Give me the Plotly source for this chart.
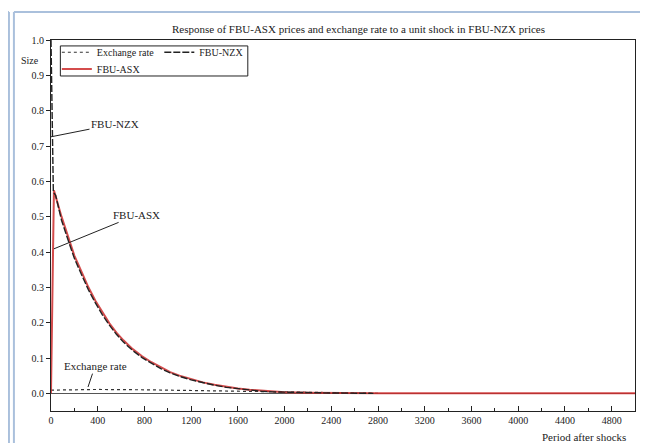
import plotly.graph_objects as go

# ---- data ----
period_asx = [0, 25, 90, 150, 200, 260, 320, 380, 440, 500, 560, 620, 700, 780, 860, 940,
              1020, 1100, 1200, 1300, 1400, 1500, 1600, 1700, 1800, 1900, 2000, 2200, 2400, 2800, 5000]
fbu_asx = [0.0, 0.575, 0.50, 0.44, 0.39, 0.345, 0.30, 0.262, 0.228, 0.198, 0.172, 0.150, 0.125,
           0.105, 0.088, 0.073, 0.060, 0.050, 0.040, 0.031, 0.024, 0.018, 0.014, 0.010, 0.007,
           0.005, 0.003, 0.002, 0.001, 0.0, 0.0]

period_nzx = [0, 20, 40, 90, 150, 200, 260, 320, 380, 440, 500, 560, 620, 700, 780, 860, 940,
              1020, 1100, 1200, 1300, 1400, 1500, 1600, 1700, 1800, 1900, 2000, 2200, 2400, 2760]
fbu_nzx = [1.0, 0.57, 0.56, 0.49, 0.43, 0.382, 0.337, 0.293, 0.256, 0.222, 0.193, 0.167, 0.145,
           0.121, 0.101, 0.085, 0.070, 0.058, 0.048, 0.038, 0.030, 0.023, 0.017, 0.013, 0.009,
           0.006, 0.004, 0.003, 0.002, 0.001, 0.0]

period_fx = [0, 400, 800, 1200, 1600, 2000, 2400, 2800]
exchange_rate = [0.009, 0.011, 0.010, 0.008, 0.005, 0.003, 0.001, 0.0]

x_ticks = [0, 400, 800, 1200, 1600, 2000, 2400, 2800, 3200, 3600, 4000, 4400, 4800]
y_ticks = [0.0, 0.1, 0.2, 0.3, 0.4, 0.5, 0.6, 0.7, 0.8, 0.9, 1.0]

FONT = "Times New Roman, Liberation Serif, DejaVu Serif, serif"
TXT = "#222222"

fig = go.Figure()

fig.add_trace(go.Scatter(
    x=period_fx, y=exchange_rate, mode="lines", name="Exchange rate",
    line=dict(color="#333333", width=1.2, dash="3px,3px"), legend="legend"))
fig.add_trace(go.Scatter(
    x=period_asx, y=fbu_asx, mode="lines", name="FBU-ASX",
    line=dict(color="rgba(205,45,45,0.85)", width=2), legend="legend2"))
fig.add_trace(go.Scatter(
    x=period_nzx, y=fbu_nzx, mode="lines", name="FBU-NZX",
    line=dict(color="#222222", width=1.4, dash="7px,2px"), legend="legend"))

# annotations with leader lines
fig.add_annotation(x=0, y=0.726, ax=548, ay=0.762, axref="x", ayref="y",
                   text="FBU-NZX", showarrow=True, arrowhead=0, arrowwidth=1,
                   arrowcolor=TXT, font=dict(family=FONT, size=11, color=TXT))
fig.add_annotation(x=25, y=0.409, ax=736, ay=0.505, axref="x", ayref="y",
                   text="FBU-ASX", showarrow=True, arrowhead=0, arrowwidth=1,
                   arrowcolor=TXT, font=dict(family=FONT, size=11, color=TXT))
fig.add_annotation(x=317, y=0.018, ax=377, ay=0.077, axref="x", ayref="y",
                   text="Exchange rate", showarrow=True, arrowhead=0, arrowwidth=1,
                   arrowcolor=TXT, font=dict(family=FONT, size=11, color=TXT))

# title and axis titles
fig.add_annotation(x=0.527, y=1.0296, xref="paper", yref="paper", showarrow=False,
                   text="Response of FBU-ASX prices and exchange rate to a unit shock in FBU-NZX prices",
                   font=dict(family=FONT, size=11, color=TXT), xanchor="center", yanchor="middle")
fig.add_annotation(x=-0.036, y=0.946, xref="paper", yref="paper", showarrow=False,
                   text="Size", font=dict(family=FONT, size=10, color=TXT),
                   xanchor="center", yanchor="middle")
fig.add_annotation(x=0.988, y=-0.07, xref="paper", yref="paper", showarrow=False,
                   text="Period after shocks", xanchor="right", yanchor="middle",
                   font=dict(family=FONT, size=11, color=TXT))

# legend frame
fig.add_shape(type="rect", xref="paper", yref="paper", x0=0.016, x1=0.337, y0=0.903, y1=0.984,
              line=dict(color=TXT, width=1), fillcolor="rgba(0,0,0,0)")

# page frame (light blue rules as in the reference)
for xx in (-0.0720, -0.0635):
    fig.add_shape(type="line", xref="paper", yref="paper", x0=xx, x1=xx, y0=-0.2, y1=1.0755,
                  line=dict(color="#aac0dc", width=2))
fig.add_shape(type="line", xref="paper", yref="paper", x0=-0.1, x1=-0.0720, y0=1.0755, y1=1.0755,
              line=dict(color="#aac0dc", width=2))
fig.add_shape(type="line", xref="paper", yref="paper", x0=-0.0635, x1=1.05, y0=1.0755, y1=1.0755,
              line=dict(color="#aac0dc", width=2))

fig.update_layout(
    width=640, height=435,
    margin=dict(l=43, r=13, t=32, b=32),
    paper_bgcolor="white", plot_bgcolor="white",
    font=dict(family=FONT, size=10, color=TXT),
    showlegend=True,
    legend=dict(orientation="h", x=0.01, y=1.006, xanchor="left", yanchor="top",
                bgcolor="rgba(0,0,0,0)", font=dict(family=FONT, size=10),
                itemwidth=30, tracegroupgap=0),
    legend2=dict(orientation="h", x=0.01, y=0.961, xanchor="left", yanchor="top",
                 bgcolor="rgba(0,0,0,0)", font=dict(family=FONT, size=10), itemwidth=30),
    xaxis=dict(range=[0, 5000], tickvals=x_ticks, ticks="inside", ticklen=5,
               tickcolor=TXT, showgrid=False, zeroline=False,
               showline=True, linecolor=TXT, linewidth=1, mirror=True,
               minor=dict(dtick=200, ticks="inside", ticklen=3, tickcolor=TXT),
               tickfont=dict(family=FONT, size=10)),
    yaxis=dict(range=[-0.05, 1.0], tickvals=y_ticks, tickformat=".1f", ticks="outside",
               ticklen=4, tickcolor=TXT, showgrid=False,
               zeroline=True, zerolinecolor="#555555", zerolinewidth=1,
               showline=True, linecolor=TXT, linewidth=1, mirror=True,
               tickfont=dict(family=FONT, size=10)),
)

fig.write_html("out.html")
